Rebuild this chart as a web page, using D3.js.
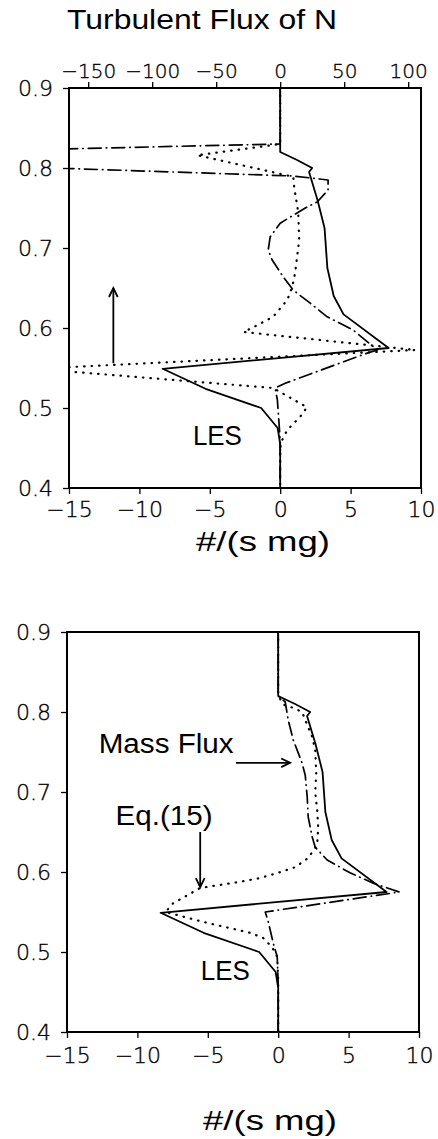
<!DOCTYPE html>
<html>
<head>
<meta charset="utf-8">
<script src="https://cdn.jsdelivr.net/npm/d3@7"></script>
<style>
  html, body { margin: 0; padding: 0; background: #fff; }
  svg { display: block; }
  .tick text { font-family: "DejaVu Sans", sans-serif; font-weight: 200; font-size: 22px; fill: #000; stroke: #000; stroke-width: 0.35px; }
  .top-axis .tick text { font-size: 20px; }
  .lbl { font-family: "Liberation Sans", Arial, sans-serif; font-size: 27px; fill: #000; }
</style>
</head>
<body>
<svg id="chart" width="438" height="1139"></svg>
<script>
// Axis ticks
const yTicks = [0.4, 0.5, 0.6, 0.7, 0.8, 0.9];
const xTicks = [-15, -10, -5, 0, 5, 10];
const topTicks = [-150, -100, -50, 0, 50, 100];

// LES profile (shared by both panels): height and flux
const lesHeight = [0.9, 0.82, 0.81, 0.80, 0.795, 0.76, 0.725, 0.675, 0.64, 0.617, 0.575, 0.549, 0.524, 0.5, 0.475, 0.455, 0.4];
const lesFlux   = [0,   0,    1.2,  2.27, 2.05,  2.65, 3.15,  3.35,  3.8,  4.5,   7.7,  -8.35, -5.3,  -1.35, -0.18, 0,    0];

// Upper panel, dash-dot profile
const upDashHeight = [0.9, 0.83, 0.814, 0.79, 0.785, 0.7725, 0.7575, 0.75, 0.731, 0.714, 0.6975, 0.685, 0.664, 0.6475, 0.631, 0.614, 0.5975, 0.5725, 0.5675, 0.531, 0.525, 0.51, 0.46, 0.4];
const upDashFlux   = [0,   0,    -40,   0.93, 3.4,   3.4,    2.63,   1.78, 0,     -0.71, -0.85,  -0.57, 0.21,  0.92,   2.13,  3.34,  5.18,   6.9,    6.0,    0.36,  -0.36, -0.2, 0,    0];

// Upper panel, dotted profile
const upDotHeight = [0.9, 0.83, 0.816, 0.789, 0.775, 0.745, 0.71, 0.689, 0.669, 0.651, 0.635, 0.614, 0.602, 0.595, 0.5725, 0.549, 0.525, 0.501, 0.489, 0.4725, 0.46, 0.45, 0.4];
const upDotFlux   = [0,   0,    -5.9,  0.93,  1.0,   1.28,  1.35, 1.2,   1.06,  0.85,  0.5,   -0.5,  -1.8,  -2.6,  9.6,    -17.4, -0.5,  1.9,   1.42,  0.5,    0.14, 0,    0];

// Lower panel, mass-flux (dash-dot) profile
const massHeight = [0.9, 0.82, 0.8125, 0.79, 0.765, 0.736, 0.721, 0.694, 0.669, 0.644, 0.631, 0.615, 0.599, 0.586, 0.575, 0.55, 0.5375, 0.511, 0.494, 0.46, 0.4];
const massFlux   = [0,   0,    0.5,    0.71, 1.07,  1.7,   1.92,  2.06,  2.13,  2.41,  2.63,  3.48,  5.1,   6.75,  8.6,   -0.92, -0.7,   -0.35, -0.07, 0,    0];

// Lower panel, Eq.(15) (dotted) profile
const eqHeight = [0.9, 0.82, 0.809, 0.805, 0.8, 0.784, 0.769, 0.7525, 0.724, 0.699, 0.6775, 0.656, 0.634, 0.6175, 0.606, 0.599, 0.5925, 0.5875, 0.58, 0.561, 0.55, 0.5375, 0.524, 0.5175, 0.506, 0.494, 0.465, 0.4];
const eqFlux   = [0,   0,    0.4,   1.1,   1.7, 2.06,  2.41,  2.63,   2.7,   2.63,  2.77,   2.84,  2.77,  2.13,   1.2,   0,     -1.28,  -2.8,   -5.54, -7.46, -8.0, -5.3,   -2.0,  -1.07,  -0.43, -0.07, 0,     0];

const svg = d3.select("#chart");
svg.append("rect").attr("width", 438).attr("height", 1139).attr("fill", "#fff");

const zip = (h, f) => h.map((v, i) => ({ z: v, f: f[i] }));

const styles = {
  solid:   { dash: null,          width: 1.8, cap: "butt" },
  dashdot: { dash: "13,5,0.5,5",  width: 1.7, cap: "round" },
  dotted:  { dash: "0.5,7",       width: 2.2, cap: "round" }
};

const minus = d => d < 0 ? "\u2212" + Math.abs(d) : d;

function panel(cfg) {
  const x = d3.scaleLinear().domain([-15, 10]).range([cfg.left, cfg.right]);
  const y = d3.scaleLinear().domain([0.4, 0.9]).range([cfg.bottom, cfg.top]);
  const g = svg.append("g");

  const clipId = "clip-" + cfg.id;
  svg.append("clipPath").attr("id", clipId)
    .append("rect")
    .attr("x", cfg.left).attr("y", cfg.top)
    .attr("width", cfg.right - cfg.left).attr("height", cfg.bottom - cfg.top);

  // left axis
  g.append("g")
    .attr("transform", `translate(${cfg.left},0)`)
    .call(d3.axisLeft(y).tickValues(yTicks).tickSize(6).tickPadding(10).tickFormat(d3.format(".1f")))
    .call(a => a.select(".domain").remove())
    .call(a => a.selectAll("line").attr("stroke", "#000").attr("stroke-width", 1.3));

  // bottom axis
  g.append("g")
    .attr("transform", `translate(0,${cfg.bottom})`)
    .call(d3.axisBottom(x).tickValues(xTicks).tickSize(6).tickPadding(cfg.bottomPad).tickFormat(minus))
    .call(a => a.select(".domain").remove())
    .call(a => a.selectAll("line").attr("stroke", "#000").attr("stroke-width", 1.3));

  if (cfg.topAxis) {
    const xt = d3.scaleLinear().domain([-165, 110]).range([cfg.left, cfg.right]);
    g.append("g")
      .attr("class", "top-axis")
      .attr("transform", `translate(0,${cfg.top})`)
      .call(d3.axisTop(xt).tickValues(topTicks).tickSize(6).tickPadding(4).tickFormat(minus))
      .call(a => a.select(".domain").remove())
      .call(a => a.selectAll("line").attr("stroke", "#000").attr("stroke-width", 1.3));
  }

  // frame
  g.append("rect")
    .attr("x", cfg.left).attr("y", cfg.top)
    .attr("width", cfg.right - cfg.left).attr("height", cfg.bottom - cfg.top)
    .attr("fill", "none").attr("stroke", "#000").attr("stroke-width", 2);

  const line = d3.line().x(d => x(d.f)).y(d => y(d.z));
  const lines = g.append("g").attr("clip-path", `url(#${clipId})`);
  cfg.series.forEach(s => {
    const st = styles[s.style];
    lines.append("path")
      .datum(zip(s.h, s.f))
      .attr("d", line)
      .attr("fill", "none")
      .attr("stroke", "#000")
      .attr("stroke-width", st.width)
      .attr("stroke-linecap", st.cap)
      .attr("stroke-linejoin", "round")
      .attr("stroke-dasharray", st.dash);
  });

  // x-axis title
  g.append("text").attr("class", "lbl")
    .attr("x", cfg.xTitle[0]).attr("y", cfg.xTitle[1])
    .attr("text-anchor", "middle")
    .attr("textLength", 134).attr("lengthAdjust", "spacingAndGlyphs")
    .text("#/(s mg)");

  return { x, y, g };
}

function arrow(g, x1, y1, x2, y2) {
  const ang = Math.atan2(y2 - y1, x2 - x1);
  const len = 10, spread = 0.45;
  g.append("line").attr("x1", x1).attr("y1", y1).attr("x2", x2).attr("y2", y2)
    .attr("stroke", "#000").attr("stroke-width", 1.8);
  g.append("path")
    .attr("d", `M${x2 - len * Math.cos(ang - spread)},${y2 - len * Math.sin(ang - spread)}L${x2},${y2}L${x2 - len * Math.cos(ang + spread)},${y2 - len * Math.sin(ang + spread)}`)
    .attr("fill", "none").attr("stroke", "#000").attr("stroke-width", 1.8);
}

function label(g, text, x, y, w, anchor) {
  g.append("text").attr("class", "lbl")
    .attr("x", x).attr("y", y)
    .attr("text-anchor", anchor || "start")
    .attr("textLength", w).attr("lengthAdjust", "spacingAndGlyphs")
    .text(text);
}

// title
label(svg, "Turbulent Flux of N", 67, 29, 270);

// upper panel
const up = panel({
  id: "up", left: 69, right: 421, top: 88, bottom: 488, topAxis: true, bottomPad: 7,
  xTitle: [263, 551],
  series: [
    { h: upDotHeight, f: upDotFlux, style: "dotted" },
    { h: upDashHeight, f: upDashFlux, style: "dashdot" },
    { h: lesHeight, f: lesFlux, style: "solid" }
  ]
});
arrow(up.g, up.x(-11.85), up.y(0.556), up.x(-11.85), up.y(0.65));
label(up.g, "LES", up.x(-6.2), up.y(0.4535), 49);

// lower panel
const lo = panel({
  id: "lo", left: 67, right: 419, top: 632, bottom: 1032, topAxis: false, bottomPad: 9,
  xTitle: [270, 1130],
  series: [
    { h: eqHeight, f: eqFlux, style: "dotted" },
    { h: massHeight, f: massFlux, style: "dashdot" },
    { h: lesHeight, f: lesFlux, style: "solid" }
  ]
});
label(lo.g, "Mass Flux", lo.x(-12.75), lo.y(0.749), 135);
arrow(lo.g, lo.x(-3.0), lo.y(0.7365), lo.x(0.85), lo.y(0.7365));
label(lo.g, "Eq.(15)", lo.x(-11.55), lo.y(0.659), 97);
arrow(lo.g, lo.x(-5.54), lo.y(0.65), lo.x(-5.54), lo.y(0.581));
label(lo.g, "LES", lo.x(-5.5), lo.y(0.4655), 49);
</script>
</body>
</html>
